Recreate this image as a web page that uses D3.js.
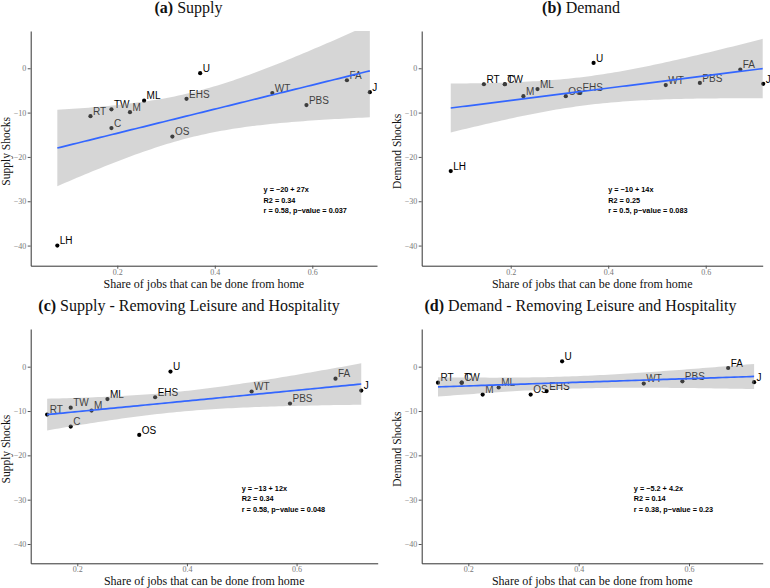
<!DOCTYPE html>
<html>
<head>
<meta charset="utf-8">
<script src="https://cdn.jsdelivr.net/npm/d3@7"></script>
<style>
	body { margin: 0; background: #fff; }
	svg { display: block; }
</style>
</head>
<body>
<div id="chart"></div>
<script>
// Sector codes and values
const sectors = ["RT", "TW", "M", "ML", "C", "EHS", "U", "OS", "WT", "PBS", "FA", "J", "LH"];
const remoteShare = [0.145, 0.188, 0.226, 0.255, 0.188, 0.342, 0.370, 0.313, 0.518, 0.588, 0.671, 0.718, 0.077];
const supplyShocks = [-10.8, -9.25, -9.9, -7.3, -13.5, -6.9, -1.1, -15.4, -5.6, -8.3, -2.7, -5.4, -40];
const demandShocks = [-3.6, -3.6, -6.3, -4.7, -3.6, -5.5, 1.2, -6.3, -3.8, -3.3, -0.3, -3.5, -23.2];

const xTicks = [0.2, 0.4, 0.6];
const yTicks = [0, -10, -20, -30, -40];

// Regression annotations as printed on each panel
const statsA = ["y = −20 + 27x", "R2 = 0.34", "r = 0.58, p−value = 0.037"];
const statsB = ["y = −10 + 14x", "R2 = 0.25", "r = 0.5, p−value = 0.083"];
const statsC = ["y = −13 + 12x", "R2 = 0.34", "r = 0.58, p−value = 0.048"];
const statsD = ["y = −5.2 + 4.2x", "R2 = 0.14", "r = 0.38, p−value = 0.23"];

// two-sided 95% t quantiles by degrees of freedom
const tCrit = { 10: 2.228139, 11: 2.200985 };

const width = 770;
const height = 588;
const serif = "'Liberation Serif', 'Times New Roman', serif";
const sans = "'Liberation Sans', Arial, sans-serif";

const svg = d3.select("#chart")
	.append("svg")
	.attr("width", width)
	.attr("height", height);

const panels = [
	{ tag: "(a)", title: "Supply", ylab: "Supply Shocks", values: supplyShocks, dropLH: false, stats: statsA,
		left: 30.7, right: 377, top: 31, bottom: 265.7, xDomain: [0.0224, 0.7327], yDomain: [-44.54, 8.41],
		titleX: 188.5, ylabX: 9.5, statX: 0.5 },
	{ tag: "(b)", title: "Demand", ylab: "Demand Shocks", values: demandShocks, dropLH: false, stats: statsB,
		left: 421.7, right: 762.7, top: 31, bottom: 265.7, xDomain: [0.0174, 0.7169], yDomain: [-44.54, 8.41],
		titleX: 581, ylabX: 400.5, statX: 0.4 },
	{ tag: "(c)", title: "Supply - Removing Leisure and Hospitality", ylab: "Supply Shocks", values: supplyShocks, dropLH: true, stats: statsC,
		left: 30.7, right: 377.7, top: 329, bottom: 563.3, xDomain: [0.115, 0.748], yDomain: [-44.35, 8.5],
		titleX: 189, ylabX: 9.5, statX: 0.5 },
	{ tag: "(d)", title: "Demand - Removing Leisure and Hospitality", ylab: "Demand Shocks", values: demandShocks, dropLH: true, stats: statsD,
		left: 421.7, right: 762.7, top: 329, bottom: 563.3, xDomain: [0.1155, 0.7336], yDomain: [-44.35, 8.5],
		titleX: 580.5, ylabX: 400.5, statX: 0.5 },
];

// Ordinary least squares with 95% confidence band for the mean
function linearFit(xs, ys) {
	const n = xs.length;
	const mx = d3.mean(xs);
	const my = d3.mean(ys);
	let sxx = 0, sxy = 0;
	xs.forEach((x, i) => {
		sxx += (x - mx) * (x - mx);
		sxy += (x - mx) * (ys[i] - my);
	});
	const b = sxy / sxx;
	const a = my - b * mx;
	let sse = 0;
	xs.forEach((x, i) => {
		const r = ys[i] - (a + b * x);
		sse += r * r;
	});
	const s = Math.sqrt(sse / (n - 2));
	const t = tCrit[n - 2];
	return (x) => {
		const yhat = a + b * x;
		const se = s * Math.sqrt(1 / n + (x - mx) * (x - mx) / sxx);
		return { x, y: yhat, lo: yhat - t * se, hi: yhat + t * se };
	};
}

panels.forEach((p, pi) => {
	const rows = sectors
		.map((s, i) => ({ name: s, x: remoteShare[i], y: p.values[i] }))
		.filter((d) => !(p.dropLH && d.name === "LH"));

	const x = d3.scaleLinear().domain(p.xDomain).range([p.left, p.right]);
	const y = d3.scaleLinear().domain(p.yDomain).range([p.bottom, p.top]);

	const g = svg.append("g");

	// Title
	const title = g.append("text")
		.attr("x", p.titleX)
		.attr("y", p.top - 18.5)
		.attr("text-anchor", "middle")
		.style("font-family", serif)
		.style("font-size", "16px")
		.attr("fill", "#111");
	title.append("tspan").style("font-weight", "bold").text(p.tag);
	title.append("tspan").text(" " + p.title);

	// Axes
	const xAxis = g.append("g")
		.attr("transform", `translate(0,${p.bottom})`)
		.call(d3.axisBottom(x).tickValues(xTicks).tickFormat(d3.format(".1f")).tickSize(3).tickSizeOuter(0).tickPadding(0.5));
	const yAxis = g.append("g")
		.attr("transform", `translate(${p.left},0)`)
		.call(d3.axisLeft(y).tickValues(yTicks).tickFormat(d3.format("d")).tickSize(3).tickSizeOuter(0).tickPadding(1.5));

	[xAxis, yAxis].forEach((ax) => {
		ax.select(".domain").attr("stroke", "#333").attr("stroke-width", 1);
		ax.selectAll(".tick line").attr("stroke", "#555");
		ax.selectAll(".tick text")
			.attr("fill", "#777")
			.style("font-family", serif)
			.style("font-size", "8px");
	});

	// Axis titles
	g.append("text")
		.attr("x", (p.left + p.right) / 2)
		.attr("y", p.bottom + 22)
		.attr("text-anchor", "middle")
		.style("font-family", serif)
		.style("font-size", "12px")
		.attr("fill", "#111")
		.text("Share of jobs that can be done from home");

	g.append("text")
		.attr("transform", `translate(${p.ylabX},${(p.top + p.bottom) / 2 + 3}) rotate(-90)`)
		.attr("text-anchor", "middle")
		.style("font-family", serif)
		.style("font-size", "11.5px")
		.attr("fill", "#111")
		.text(p.ylab);

	// Points and labels (drawn under the smoother, as in the original)
	g.append("g")
		.selectAll("circle")
		.data(rows)
		.join("circle")
		.attr("cx", (d) => x(d.x))
		.attr("cy", (d) => y(d.y))
		.attr("r", 2.1)
		.attr("fill", "#000");

	g.append("g")
		.selectAll("text")
		.data(rows)
		.join("text")
		.attr("x", (d) => x(d.x) + 2.5)
		.attr("y", (d) => y(d.y) - 1.2)
		.style("font-family", sans)
		.style("font-size", "10px")
		.attr("fill", "#000")
		.text((d) => d.name);

	// Smoother with confidence ribbon
	const clipId = `clip-${pi}`;
	g.append("clipPath")
		.attr("id", clipId)
		.append("rect")
		.attr("x", p.left)
		.attr("y", p.top)
		.attr("width", p.right - p.left)
		.attr("height", p.bottom - p.top);

	const model = linearFit(rows.map((d) => d.x), rows.map((d) => d.y));
	const [x0, x1] = d3.extent(rows, (d) => d.x);
	const band = d3.range(81).map((i) => model(x0 + (x1 - x0) * i / 80));

	g.append("path")
		.datum(band)
		.attr("clip-path", `url(#${clipId})`)
		.attr("fill", "#999")
		.attr("fill-opacity", 0.4)
		.attr("d", d3.area().x((d) => x(d.x)).y0((d) => y(d.lo)).y1((d) => y(d.hi)));

	g.append("path")
		.datum(band)
		.attr("clip-path", `url(#${clipId})`)
		.attr("fill", "none")
		.attr("stroke", "#3366FF")
		.attr("stroke-width", 1.7)
		.attr("d", d3.line().x((d) => x(d.x)).y((d) => y(d.y)));

	// Regression statistics
	g.append("g")
		.selectAll("text")
		.data(p.stats)
		.join("text")
		.attr("x", x(p.statX))
		.attr("y", (d, i) => y(-28) + i * 10.5)
		.style("font-family", sans)
		.style("font-size", "7.3px")
		.style("font-weight", "bold")
		.attr("fill", "#000")
		.text((d) => d);
});
</script>
</body>
</html>
